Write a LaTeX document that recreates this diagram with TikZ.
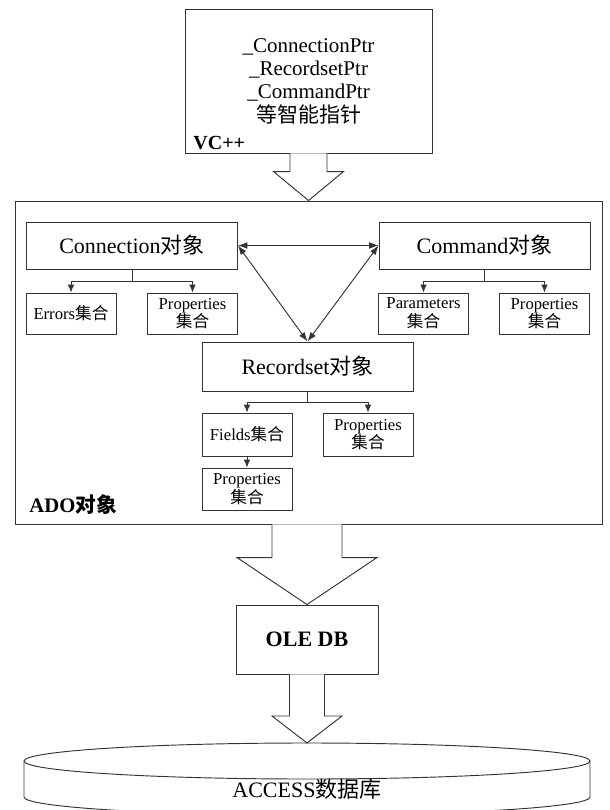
\documentclass[tikz,border=0pt]{standalone}
\usepackage{fontspec}
\setmainfont{Liberation Serif}
\newfontfamily\cjk{Noto Sans CJK SC}
\usetikzlibrary{calc, arrows.meta}
\newcommand{\zh}[1]{{\cjk #1}}
\newcommand{\hollowarrow}[5]{%
	\draw[hollow] ($(#1 -| #2)+(-#3,0)$) -- ($(#2)+(-#3,-#5)$) -- ($(#2)+(-#4,-#5)$) -- (#2)
		-- ($(#2)+(#4,-#5)$) -- ($(#2)+(#3,-#5)$) -- ($(#1 -| #2)+(#3,0)$);}
\tikzset{
	every node/.style={draw=black!80, line width=0.7pt},
	objbox/.style={minimum width=158.25pt, minimum height=35.25pt, inner sep=0pt, font=\fontsize{16.5}{19}\selectfont},
	setbox/.style={minimum width=67.5pt, minimum height=30.75pt, inner sep=0pt, align=center, font=\fontsize{12.5}{14}\selectfont},
	label/.style={draw=none, inner sep=0pt},
	tree/.style={-{Latex[length=6pt, width=5pt]}, line width=0.7pt, draw=black!80},
	link/.style={{Latex[length=7pt, width=5pt]}-{Latex[length=7pt, width=5pt]}, line width=0.7pt, draw=black!80},
	hollow/.style={draw=black!80, line width=0.7pt, fill=white, line join=miter}
}
\begin{document}
\begin{tikzpicture}[x=0.75pt, y=-0.75pt]
	\useasboundingbox (0,0) rectangle (610,810);
	\node[minimum width=185.25pt, minimum height=108pt, align=center, font=\fontsize{15.75}{17.5}\selectfont] (vc) at (308.5,81)
		{\_ConnectionPtr\\\_RecordsetPtr\\\_CommandPtr\\\zh{等智能指针}};
	\node[label, anchor=west, font=\bfseries\fontsize{15}{17}\selectfont] (vclabel) at (193,143) {VC++};
	\node[minimum width=440.25pt, minimum height=242.25pt] (ado) at (308.5,362.5) {};
	\node[label, anchor=west, font=\bfseries\fontsize{15.5}{17}\selectfont] (adolabel) at (29,505) {ADO{\cjk\bfseries 对象}};
	\hollowarrow{vc.south}{ado.north}{18.5}{35}{29}

	\node[objbox] (conn) at (132,245.5) {Connection\zh{对象}};
	\node[objbox] (cmd) at (484.5,245.5) {Command\zh{对象}};
	\node[objbox, minimum height=36.75pt] (rs) at (307.5,366.5) {Recordset\zh{对象}};
	\draw[link] (conn.east) -- (cmd.west);
	\draw[link] (conn.east) -- (rs.north);
	\draw[link] (cmd.west) -- (rs.north);

	\node[setbox] (errors) at (71,313.5) {Errors\zh{集合}};
	\node[setbox] (connprops) at (192.5,313.5) {Properties\\\zh{集合}};
	\node[setbox] (params) at (423.5,313.5) {Parameters\\\zh{集合}};
	\node[setbox] (cmdprops) at (544.5,313.5) {Properties\\\zh{集合}};
	\draw[tree] (conn.south) -- ++(0,12) -| (errors.north);
	\draw[tree] (conn.south) -- ++(0,12) -| (connprops.north);
	\draw[tree] (cmd.south) -- ++(0,12) -| (params.north);
	\draw[tree] (cmd.south) -- ++(0,12) -| (cmdprops.north);

	\node[setbox, minimum height=32.25pt] (fields) at (247,434.5) {Fields\zh{集合}};
	\node[setbox, minimum height=32.25pt] (rsprops) at (368,434.5) {Properties\\\zh{集合}};
	\node[setbox, minimum height=31.5pt] (fldprops) at (247,489) {Properties\\\zh{集合}};
	\draw[tree] (rs.south) -- ++(0,11) -| (fields.north);
	\draw[tree] (rs.south) -- ++(0,11) -| (rsprops.north);
	\draw[tree] (fields.south) -- (fldprops.north);

	\node[minimum width=106.5pt, minimum height=51.75pt, font=\bfseries\fontsize{16.5}{19}\selectfont] (oledb) at (307,639.5) {OLE DB};
	\hollowarrow{ado.south}{oledb.north}{35}{70}{47}

	\coordinate (db) at (307,743);
	\draw[line width=0.7pt, draw=black!80] (307,761) ellipse [x radius=212.25pt, y radius=13.5pt];
	\draw[line width=0.7pt, draw=black!80] (24,761) -- (24,797) arc[start angle=180, end angle=360, x radius=212.25pt, y radius=13.5pt] -- (590,761);
	\node[label, font=\fontsize{16.5}{19}\selectfont] (access) at (307,789) {ACCESS\zh{数据库}};
	\hollowarrow{oledb.south}{db}{17.5}{35}{27}
\end{tikzpicture}
\end{document}
